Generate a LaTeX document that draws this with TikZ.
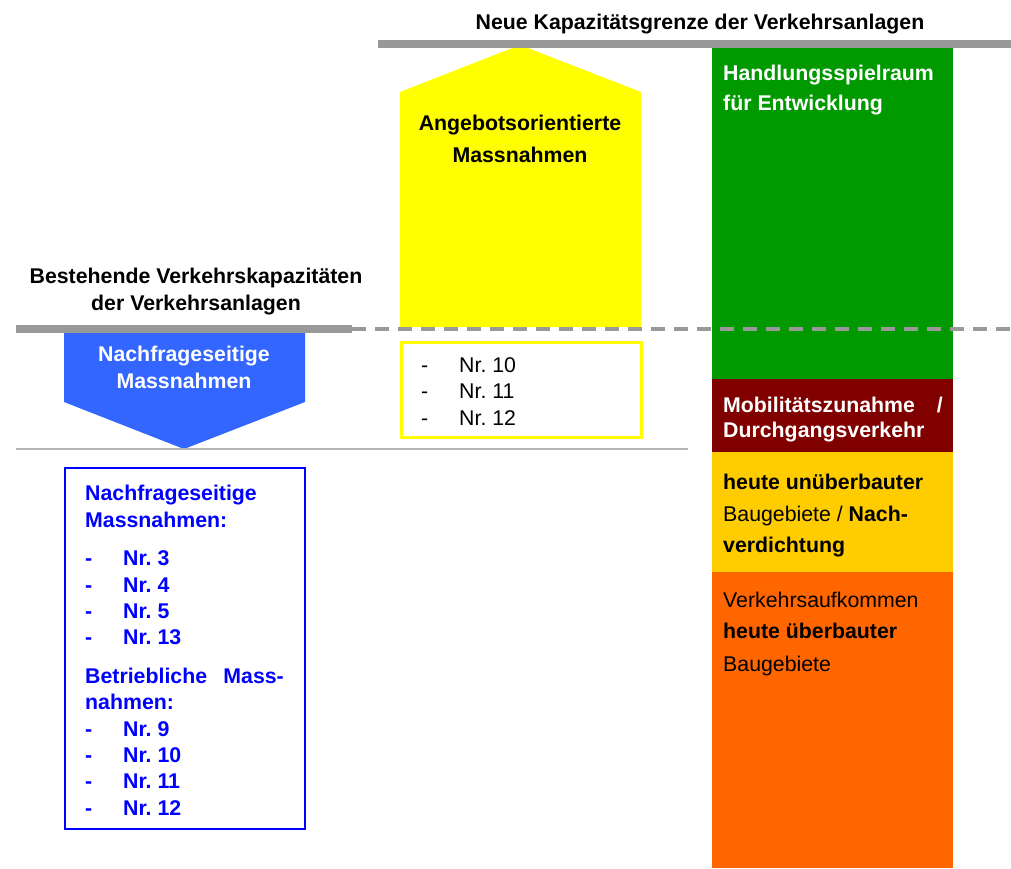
\documentclass[tikz,border=0pt]{standalone}
\usepackage{fontspec}
\setmainfont{Liberation Sans}
\frenchspacing
\definecolor{barg}{HTML}{999999}
\definecolor{lgray}{HTML}{B4B4B4}
\definecolor{blueA}{HTML}{3366FF}
\definecolor{blueB}{HTML}{0000FF}
\definecolor{greenA}{HTML}{009900}
\definecolor{redA}{HTML}{800000}
\definecolor{goldA}{HTML}{FFCC00}
\definecolor{orangeA}{HTML}{FF6600}
\definecolor{yellowA}{HTML}{FFFF00}
\begin{document}
\frenchspacing
\begin{tikzpicture}[x=1pt,y=-1pt,
  every node/.style={font=\fontsize{21.3}{25}\selectfont, inner sep=0pt},
  lbl/.style={anchor=base west},
  ctr/.style={anchor=base},
  bold/.style={font=\fontsize{21.3}{25}\selectfont\bfseries},
  block/.style={draw=none, anchor=north west, minimum width=241pt},
  bluetxt/.style={text=blueB, font=\fontsize{21.3}{25}\selectfont\bfseries}]
\useasboundingbox (0,0) rectangle (1011,868);
% coloured column
\node[block, fill=greenA, minimum height=331pt] (green) at (712,48) {};
\node[block, fill=redA, minimum height=73pt] (red) at (712,379) {};
\node[block, fill=goldA, minimum height=120pt] (gold) at (712,452) {};
\node[block, fill=orangeA, minimum height=296pt] (orange) at (712,572) {};
% yellow house
\fill[yellowA] (400,327) -- (400,92) -- (520,45) -- (641,92) -- (641,327) -- cycle;
% blue arrow
\fill[blueA] (64,333) -- (305,333) -- (305,402) -- (184,449) -- (64,402) -- cycle;
% bars
\fill[barg] (378,40) rectangle (1011,48);
\fill[barg] (16,325) rectangle (352,333);
\coordinate (dA) at (352,329);
\coordinate (dB) at (1011,329);
\draw[barg, line width=4pt, dash pattern=on 14pt off 9pt] (dA) -- (dB);
\coordinate (tA) at (16,449);
\coordinate (tB) at (688,449);
\draw[lgray, line width=1.5pt] (tA) -- (tB);
% boxes
\node[draw=yellowA, line width=3pt, anchor=north west, minimum width=240pt, minimum height=95pt] (ybox) at (400,341) {};
\node[draw=blueB, line width=2pt, anchor=north west, minimum width=240pt, minimum height=361pt] (bbox) at (64,467) {};
% titles
\node[bold, ctr] (t1) at (700,29) {Neue Kapazitätsgrenze der Verkehrsanlagen};
\node[bold, ctr] (t2) at (196,283) {Bestehende Verkehrskapazitäten};
\node[bold, ctr] (t3) at (196,310) {der Verkehrsanlagen};
% blue arrow text
\node[bold, ctr, text=white] (n1) at (184,361) {Nachfrageseitige};
\node[bold, ctr, text=white] (n2) at (184,388) {Massnahmen};
% yellow text
\node[bold, ctr] (a1) at (520,130) {Angebotsorientierte};
\node[bold, ctr] (a2) at (520,162) {Massnahmen};
\node[lbl] (yd1) at (421,372) {-};
\node[lbl] (yn1) at (459,372) {Nr. 10};
\node[lbl] (yd2) at (421,398) {-};
\node[lbl] (yn2) at (459,398) {Nr. 11};
\node[lbl] (yd3) at (421,425) {-};
\node[lbl] (yn3) at (459,425) {Nr. 12};
% column text
\node[bold, lbl, text=white] (g1) at (723,80) {Handlungsspielraum};
\node[bold, lbl, text=white] (g2) at (723,110) {für Entwicklung};
\node[bold, lbl, text=white] (r1) at (723,412) {Mobilitätszunahme};
\node[bold, anchor=base east, text=white] (r1b) at (943,412) {/};
\node[bold, lbl, text=white] (r2) at (723,437) {Durchgangsverkehr};
\node[lbl] (o1) at (723,489) {\bfseries heute unüberbauter};
\node[lbl] (o2) at (723,521) {Baugebiete / \bfseries Nach-};
\node[lbl] (o3) at (723,552) {\bfseries verdichtung};
\node[lbl] (p1) at (723,607) {Verkehrsaufkommen};
\node[lbl] (p2) at (723,638) {\bfseries heute überbauter};
\node[lbl] (p3) at (723,671) {Baugebiete};
% blue box text
\node[bluetxt, lbl] (b1) at (85,500) {Nachfrageseitige};
\node[bluetxt, lbl] (b2) at (85,527) {Massnahmen:};
\node[bluetxt, lbl] (bd1) at (85,565) {-};
\node[bluetxt, lbl] (bn1) at (123,565) {Nr. 3};
\node[bluetxt, lbl] (bd2) at (85,592) {-};
\node[bluetxt, lbl] (bn2) at (123,592) {Nr. 4};
\node[bluetxt, lbl] (bd3) at (85,618) {-};
\node[bluetxt, lbl] (bn3) at (123,618) {Nr. 5};
\node[bluetxt, lbl] (bd4) at (85,644) {-};
\node[bluetxt, lbl] (bn4) at (123,644) {Nr. 13};
\node[bluetxt, lbl] (b3) at (85,683) {Betriebliche};
\node[bluetxt, anchor=base east] (b3b) at (284,683) {Mass-};
\node[bluetxt, lbl] (b4) at (85,709) {nahmen:};
\node[bluetxt, lbl] (bd5) at (85,736) {-};
\node[bluetxt, lbl] (bn5) at (123,736) {Nr. 9};
\node[bluetxt, lbl] (bd6) at (85,762) {-};
\node[bluetxt, lbl] (bn6) at (123,762) {Nr. 10};
\node[bluetxt, lbl] (bd7) at (85,788) {-};
\node[bluetxt, lbl] (bn7) at (123,788) {Nr. 11};
\node[bluetxt, lbl] (bd8) at (85,815) {-};
\node[bluetxt, lbl] (bn8) at (123,815) {Nr. 12};
\end{tikzpicture}
\end{document}
